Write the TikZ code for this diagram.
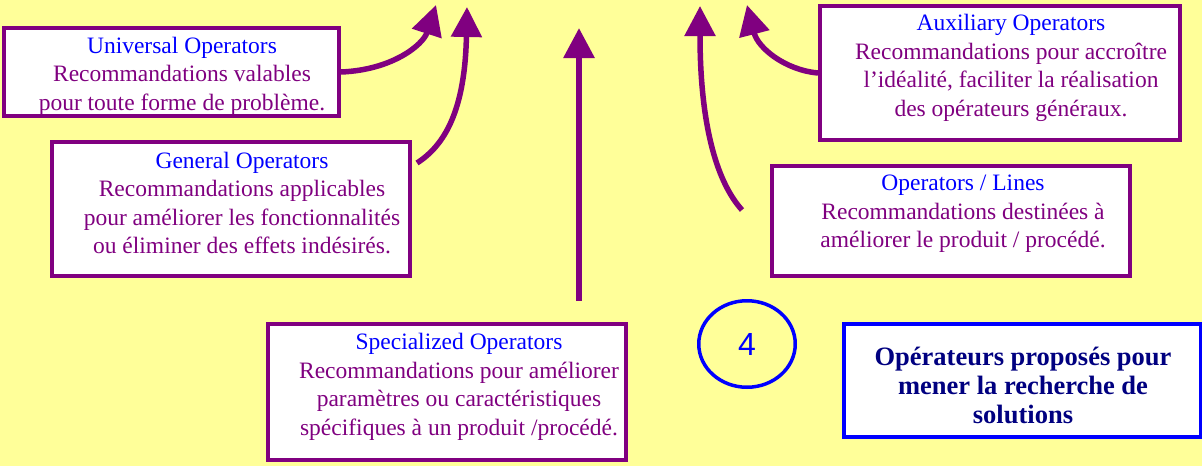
\documentclass[tikz,border=0pt]{standalone}
\usepackage{fontspec}
\setmainfont{Liberation Serif}
\newfontfamily\sansf{Liberation Sans}
\usetikzlibrary{arrows.meta,shapes.geometric,calc}
\definecolor{bgyellow}{HTML}{FFFF99}
\definecolor{opurple}{HTML}{800080}
\definecolor{oblue}{HTML}{0000FF}
\definecolor{onavy}{HTML}{000080}
\begin{document}
\begin{tikzpicture}[x=1pt,y=-1pt,
  box/.style={draw=opurple, line width=4pt, fill=white, inner sep=0pt},
  txt/.style={align=center, inner sep=0pt, font=\fontsize{23.5}{28.5}\selectfont, text=opurple},
  arr/.style={draw=opurple, line width=5.5pt, -{Triangle[length=30pt,width=30pt]}}]
\fill[bgyellow] (0,0) rectangle (1202,466);
\useasboundingbox (0,0) rectangle (1202,466);

% boxes
\node[box, minimum width=335pt, minimum height=88pt] (univ) at (171.5,72) {};
\node[txt] (univt) at (182,76) {{\color{oblue}Universal Operators}\\Recommandations valables\\pour toute forme de problème.};

\node[box, minimum width=358pt, minimum height=134pt] (gen) at (231,209) {};
\node[txt] (gent) at (242,203) {{\color{oblue}General Operators}\\Recommandations applicables\\pour améliorer les fonctionnalités\\ou éliminer des effets indésirés.};

\node[box, minimum width=358pt, minimum height=136pt] (spec) at (447,392) {};
\node[txt] (spect) at (459,387) {{\color{oblue}Specialized Operators}\\Recommandations pour améliorer\\paramètres ou caractéristiques\\spécifiques à un produit /procédé.};

\node[box, minimum width=360pt, minimum height=134pt] (aux) at (1000,73) {};
\node[txt] (auxt) at (1011,68) {{\color{oblue}Auxiliary Operators}\\Recommandations pour accroître\\l’idéalité, faciliter la réalisation\\des opérateurs généraux.};

\node[box, minimum width=358pt, minimum height=110pt] (opl) at (951,221) {};
\node[txt] (oplt) at (963,214) {{\color{oblue}Operators / Lines}\\Recommandations destinées à\\améliorer le produit / procédé.};

\node[draw=oblue, line width=4pt, fill=white, inner sep=0pt, minimum width=357pt, minimum height=113pt] (prop) at (1022.5,380.5) {};
\node[align=center, inner sep=0pt, font=\fontsize{26.5}{29}\selectfont\bfseries, text=onavy] (propt) at (1023,385) {Opérateurs proposés pour\\mener la recherche de\\solutions};

\node[draw=oblue, line width=3.5pt, ellipse, minimum width=96.5pt, minimum height=86.5pt, inner sep=0pt, text=oblue, font=\sansf\fontsize{32}{32}\selectfont] (four) at (747,344) {4};

% arrow ends
\coordinate (t1) at (436,5);
\coordinate (t2) at (467,7);
\coordinate (t3) at (579,28);
\coordinate (s3) at (579,301);
\coordinate (t4) at (700,6);
\coordinate (t5) at (747,5);

\draw[arr] (univ.east) .. controls (392,70) and (423,45) .. (t1);
\draw[arr] ($(gen.north east)+(5,23)$) .. controls (445,145) and (465,110) .. (t2);
\draw[arr, line width=6pt] (s3) -- (t3);
\draw[arr] ($(opl.west)+(-28,-11)$) .. controls (715,180) and (700,120) .. (t4);
\draw[arr] (aux.west) .. controls (785,70) and (758,48) .. (t5);
\end{tikzpicture}
\end{document}
